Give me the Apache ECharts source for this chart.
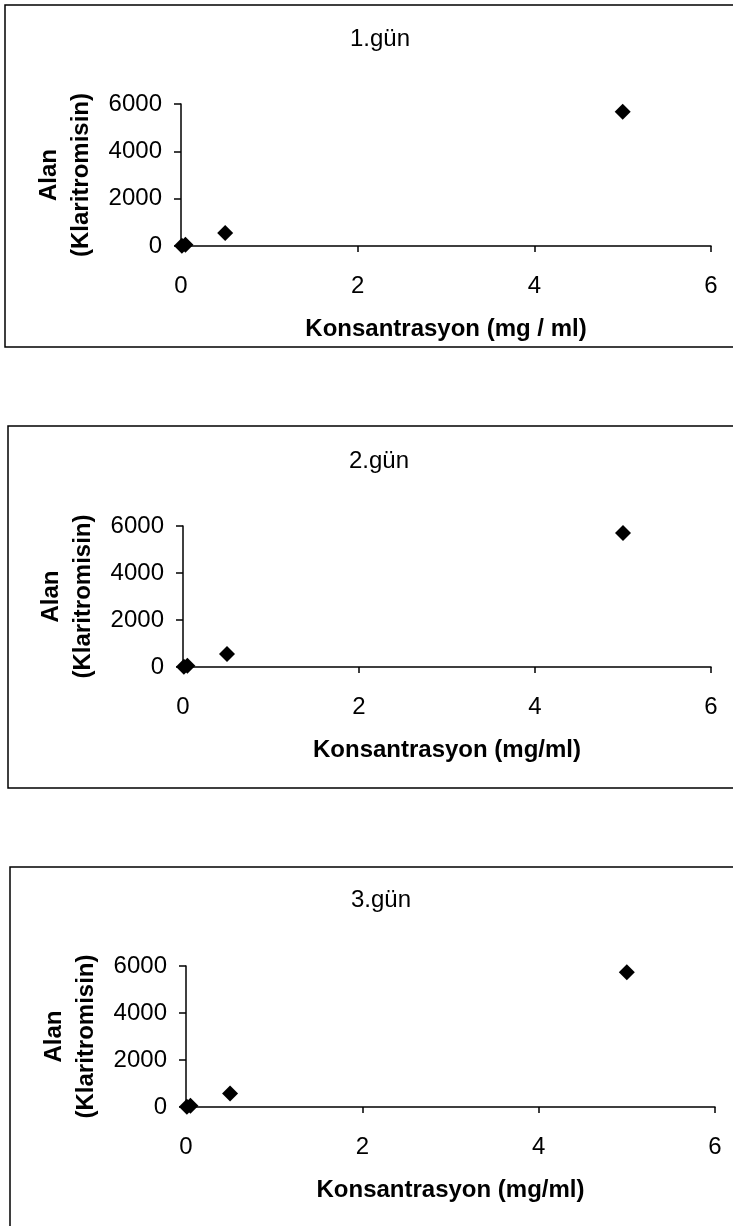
<!DOCTYPE html>
<html>

<head>
	<meta charset="utf-8">
	<script type="text/javascript" src="https://cdn.jsdelivr.net/npm/echarts@6/dist/echarts.min.js"></script>
	<style>
		html, body { margin: 0; padding: 0; background: #fff; overflow: hidden; }
	</style>
</head>

<body>
	<div id="main" style="width: 733px; height:1226px; position:absolute; left:0; top:0;"></div>

	<script type="text/javascript">

		// konsantrasyon (mg/ml)
		var konsantrasyon = [0.01, 0.05, 0.5, 5];
		// alan değerleri, her gün için
		var gun1Alan = [8, 52, 545, 5670];
		var gun2Alan = [8, 55, 555, 5700];
		var gun3Alan = [8, 58, 570, 5730];

		var basliklar = ['1.gün', '2.gün', '3.gün'];
		var xIsimleri = ['Konsantrasyon (mg / ml)', 'Konsantrasyon (mg/ml)', 'Konsantrasyon (mg/ml)'];
		var yIsmi = 'Alan\n(Klaritromisin)';
		var xTicks = [0, 6, 2];      // min, max, interval
		var yTicks = [0, 6000, 2000];

		var font = "'Liberation Sans', Arial, sans-serif";

		var gridler = [
			{ left: 181, top: 104, width: 530, height: 142 },
			{ left: 183, top: 526, width: 528, height: 141 },
			{ left: 186, top: 966, width: 529, height: 141 }
		];
		var baslikTop = [22, 444, 883];
		var baslikLeft = [375, 374, 376];
		var cerceveler = [
			{ x: 5, y: 5, width: 760, height: 342 },
			{ x: 8, y: 426, width: 760, height: 362 },
			{ x: 10, y: 867, width: 760, height: 420 }
		];

		var veriler = [gun1Alan, gun2Alan, gun3Alan];

		function noktalar(alan) {
			var d = [];
			for (var i = 0; i < konsantrasyon.length; i++) {
				d.push([konsantrasyon[i], alan[i]]);
			}
			return d;
		}

		var chart = echarts.init(document.getElementById('main'));

		var title = [], grid = [], xAxis = [], yAxis = [], series = [], graphic = [];

		for (var k = 0; k < 3; k++) {
			title.push({
				text: basliklar[k],
				left: baslikLeft[k],
				top: baslikTop[k],
				textAlign: 'center',
				textStyle: { fontFamily: font, fontSize: 24, fontWeight: 'normal', color: '#000' }
			});
			grid.push(gridler[k]);
			xAxis.push({
				type: 'value',
				gridIndex: k,
				min: xTicks[0], max: xTicks[1], interval: xTicks[2],
				name: xIsimleri[k],
				nameLocation: 'middle',
				nameGap: 71,
				nameTextStyle: { fontFamily: font, fontSize: 24, fontWeight: 'bold', color: '#000' },
				axisLine: { onZero: false, lineStyle: { color: '#000', width: 1.5 } },
				axisTick: { show: true, length: 6, lineStyle: { color: '#000', width: 1.5 } },
				axisLabel: { margin: 28, fontFamily: font, fontSize: 24, color: '#000' },
				splitLine: { show: false }
			});
			yAxis.push({
				type: 'value',
				gridIndex: k,
				min: yTicks[0], max: yTicks[1], interval: yTicks[2],
				name: yIsmi,
				nameLocation: 'middle',
				nameGap: 77,
				nameTextStyle: { fontFamily: font, fontSize: 24, fontWeight: 'bold', color: '#000', lineHeight: 32 },
				axisLine: { show: true, lineStyle: { color: '#000', width: 1.5 } },
				axisTick: { show: true, length: 7, lineStyle: { color: '#000', width: 1.5 } },
				axisLabel: {
					margin: 19, fontFamily: font, fontSize: 24, color: '#000',
					formatter: function (v) { return String(v); }
				},
				splitLine: { show: false }
			});
			series.push({
				type: 'scatter',
				xAxisIndex: k,
				yAxisIndex: k,
				symbol: 'diamond',
				symbolSize: 16,
				itemStyle: { color: '#000', opacity: 1 },
				data: noktalar(veriler[k])
			});
			graphic.push({
				type: 'rect',
				shape: cerceveler[k],
				style: { fill: null, stroke: '#000', lineWidth: 1.5 },
				silent: true
			});
		}

		chart.setOption({
			animation: false,
			backgroundColor: '#fff',
			title: title,
			grid: grid,
			xAxis: xAxis,
			yAxis: yAxis,
			series: series,
			graphic: graphic
		});

	</script>
</body>

</html>
